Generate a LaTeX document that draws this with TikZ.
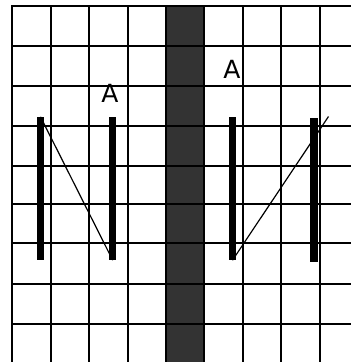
\documentclass[tikz,border=0pt]{standalone}
\usepackage{fontspec}
\setmainfont{DejaVu Sans}
\begin{document}
\begin{tikzpicture}[x=1pt,y=-1pt,
  gridline/.style={line width=2pt,black},
  bar/.style={rectangle,fill=black,inner sep=0pt,minimum width=7.5pt},
  thinline/.style={line width=1.2pt,black},
  lbl/.style={inner sep=0pt,font=\fontsize{25}{25}\selectfont}]
\useasboundingbox (0,0) rectangle (351,362);
\fill[fill={rgb,255:red,51;green,51;blue,51}] (166,6) rectangle (204,362);
\foreach \x in {12,50.5,89,127.5,166,204,242.5,281,319.5}
  \draw[gridline] (\x,5) -- (\x,362);
\foreach \y in {6,45.7,85.7,125.7,165.7,204.3,243.3,283.7,324}
  \draw[gridline] (11,\y) -- (351,\y);
\node[bar,minimum height=143pt] (b1) at (40.5,188.5) {};
\node[bar,minimum height=143pt] (b2) at (112.7,188.5) {};
\node[bar,minimum height=143pt] (b3) at (232.5,188.5) {};
\node[bar,minimum height=143.5pt] (b4) at (314,190.2) {};
\coordinate (e) at (328.5,116.5);
\draw[thinline] (b1.north) -- (b2.south);
\draw[thinline] (b3.south) -- (e);
\node[lbl] (a1) at (110,93.5) {A};
\node[lbl] (a2) at (232,69.5) {A};
\end{tikzpicture}
\end{document}
